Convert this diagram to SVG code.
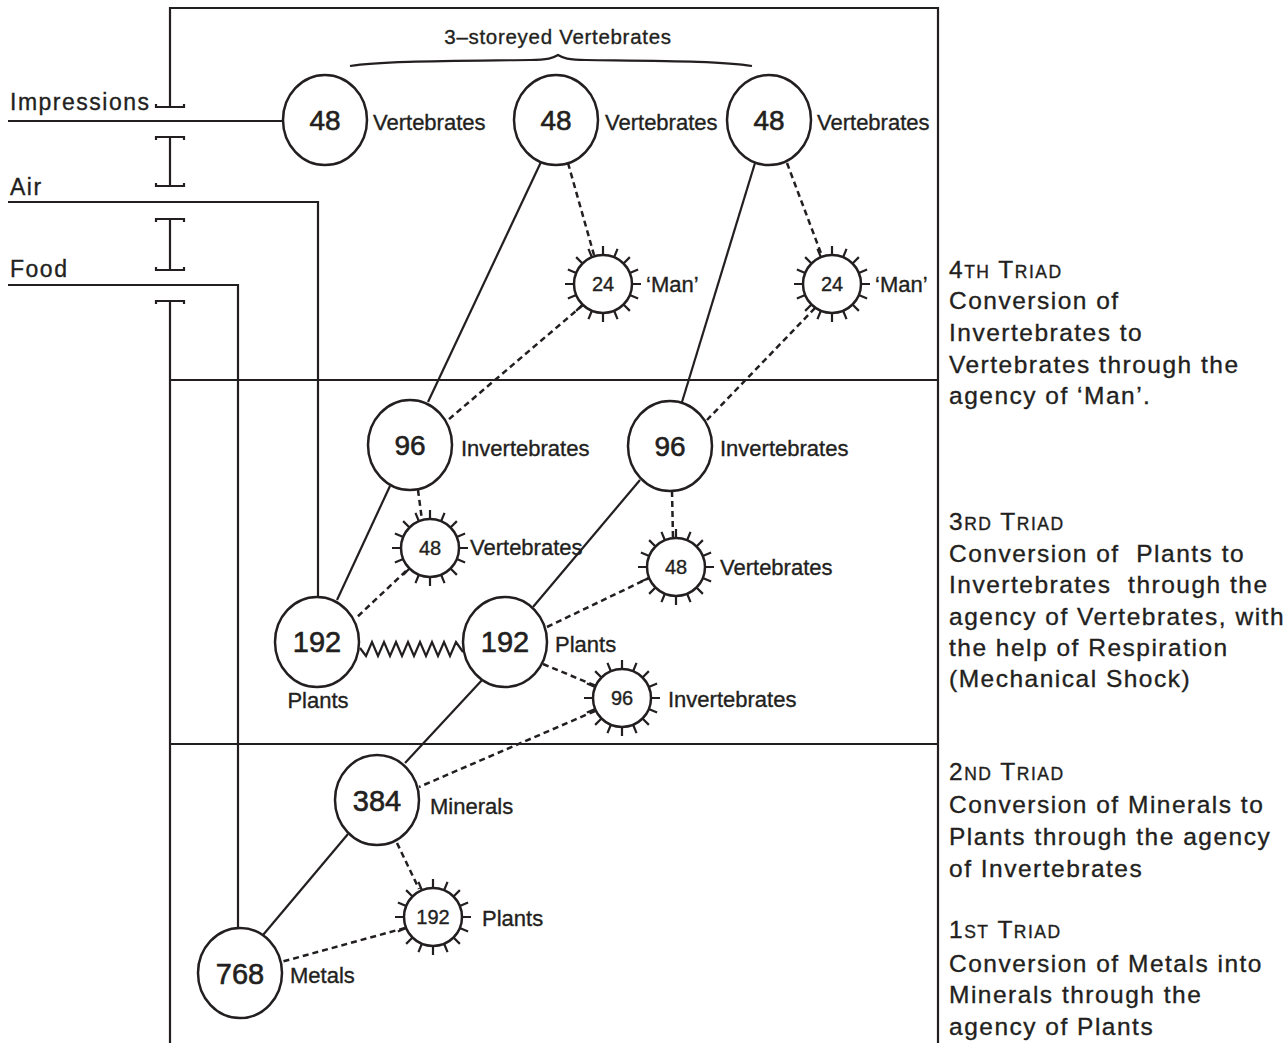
<svg xmlns="http://www.w3.org/2000/svg" xmlns:xlink="http://www.w3.org/1999/xlink" width="1284" height="1043" viewBox="0 0 1284 1043">
<style>
.ln{fill:none;stroke:#231f20;stroke-width:2.2}
.ds{fill:none;stroke:#231f20;stroke-width:2.5;stroke-dasharray:6 4}
.nd{fill:#fff;stroke:#231f20;stroke-width:2.5}
.t{font-family:"Liberation Sans",Arial,sans-serif;fill:#231f20;stroke:#231f20;stroke-width:0.35}
.big{font-size:28px;text-anchor:middle;stroke-width:0.6}
.big3{font-size:29px;text-anchor:middle;stroke-width:0.6}
.sm{font-size:20px;text-anchor:middle}
.lab{font-size:22px}
.side{font-size:23px;letter-spacing:1.5px}
.rt{font-size:24.5px;letter-spacing:1.5px}
.sc{font-size:17.5px}
</style>
<defs>
<g id="sun">
<circle r="29" class="nd"/>
<path class="ln" d="M29 0H38M-29 0H-38M0 29V38M0 -29V-38M26.79 11.1L35.11 14.54M-26.79 11.1L-35.11 14.54M26.79 -11.1L35.11 -14.54M-26.79 -11.1L-35.11 -14.54M20.51 20.51L26.87 26.87M-20.51 20.51L-26.87 26.87M20.51 -20.51L26.87 -26.87M-20.51 -20.51L-26.87 -26.87M11.1 26.79L14.54 35.11M-11.1 26.79L-14.54 35.11M11.1 -26.79L14.54 -35.11M-11.1 -26.79L-14.54 -35.11"/>
</g>
</defs>
<rect width="1284" height="1043" fill="#fff"/>
<g id="frame" class="ln">
<path d="M170 107V8H938V1043"/>
<path d="M156 104V107H184V104"/>
<path d="M156 140V137H184V140M170 137V186M156 183V186H184V183"/>
<path d="M156 222V219H184V222M170 219V270M156 267V270H184V267"/>
<path d="M156 304V301H184V304M170 301V1043"/>
<path d="M170 380H938M170 744H938"/>
<path d="M350 66C380 61 450 61 530 60C548 60 553 58 558 55C563 58 568 60 586 60C666 61 722 61 752 66"/>
</g>
<g id="connectors">
<path class="ln" d="M8 121H283"/>
<path class="ln" d="M8 202H318V598"/>
<path class="ln" d="M8 285H238V928"/>
<path class="ln" d="M541 162L428 402"/>
<path class="ln" d="M755 163L682 402"/>
<path class="ln" d="M390 486L337 600"/>
<path class="ln" d="M640 480L533 607"/>
<path class="ln" d="M483 679L405 763"/>
<path class="ln" d="M348 834L263 935"/>
<polyline class="ln" points="360,648 366,656 372,642 378,656 384,642 390,656 396,642 402,656 408,642 414,656 420,642 426,656 432,642 438,656 444,642 450,656 456,642 463,652"/>
<path class="ds" d="M568 163L594 255"/>
<path class="ds" d="M583 305L448 420"/>
<path class="ds" d="M787 163L822 256"/>
<path class="ds" d="M815 308L707 420"/>
<path class="ds" d="M418 490L422 520"/>
<path class="ds" d="M406 571L355 619"/>
<path class="ds" d="M672 491L673 538"/>
<path class="ds" d="M547 627L649 578"/>
<path class="ds" d="M543 664L596 686"/>
<path class="ds" d="M595 711L419 787"/>
<path class="ds" d="M397 843L419 889"/>
<path class="ds" d="M405 928L281 962"/>
</g>
<g id="inputs" class="t side">
<text x="10" y="110">Impressions</text>
<text x="10" y="195">Air</text>
<text x="10" y="277">Food</text>
</g>
<text id="brace-label" class="t" x="558" y="44" font-size="20.5" text-anchor="middle" letter-spacing="0.7">3–storeyed Vertebrates</text>
<g id="v48a"><ellipse class="nd" cx="325" cy="120" rx="42" ry="45"/><text class="t big" x="325" y="130">48</text><text class="t lab" x="373" y="130">Vertebrates</text></g>
<g id="v48b"><ellipse class="nd" cx="556" cy="120" rx="42" ry="45"/><text class="t big" x="556" y="130">48</text><text class="t lab" x="605" y="130">Vertebrates</text></g>
<g id="v48c"><ellipse class="nd" cx="769" cy="120" rx="42" ry="45"/><text class="t big" x="769" y="130">48</text><text class="t lab" x="817" y="130">Vertebrates</text></g>
<g id="man1"><use xlink:href="#sun" x="603" y="284"/><text class="t sm" x="603" y="291">24</text><text class="t lab" x="646" y="292">‘Man’</text></g>
<g id="man2"><use xlink:href="#sun" x="832" y="284"/><text class="t sm" x="832" y="291">24</text><text class="t lab" x="875" y="292">‘Man’</text></g>
<g id="i96a"><ellipse class="nd" cx="410" cy="445" rx="42" ry="45"/><text class="t big" x="410" y="455">96</text><text class="t lab" x="461" y="456">Invertebrates</text></g>
<g id="i96b"><ellipse class="nd" cx="670" cy="446" rx="42" ry="45"/><text class="t big" x="670" y="456">96</text><text class="t lab" x="720" y="456">Invertebrates</text></g>
<g id="s48a"><use xlink:href="#sun" x="430" y="548"/><text class="t sm" x="430" y="555">48</text><text class="t lab" x="470" y="555">Vertebrates</text></g>
<g id="s48b"><use xlink:href="#sun" x="676" y="567"/><text class="t sm" x="676" y="574">48</text><text class="t lab" x="720" y="575">Vertebrates</text></g>
<g id="p192a"><ellipse class="nd" cx="317" cy="642" rx="42" ry="45"/><text class="t big3" x="317" y="652">192</text><text class="t lab" x="318" y="708" text-anchor="middle">Plants</text></g>
<g id="p192b"><ellipse class="nd" cx="505" cy="642" rx="42" ry="45"/><text class="t big3" x="505" y="652">192</text><text class="t lab" x="555" y="652">Plants</text></g>
<g id="s96"><use xlink:href="#sun" x="622" y="698"/><text class="t sm" x="622" y="705">96</text><text class="t lab" x="668" y="707">Invertebrates</text></g>
<g id="m384"><ellipse class="nd" cx="377" cy="800" rx="42" ry="45"/><text class="t big3" x="377" y="811">384</text><text class="t lab" x="430" y="814">Minerals</text></g>
<g id="s192"><use xlink:href="#sun" x="433" y="917"/><text class="t sm" x="433" y="924">192</text><text class="t lab" x="482" y="926">Plants</text></g>
<g id="m768"><ellipse class="nd" cx="240" cy="973" rx="42" ry="45"/><text class="t big3" x="240" y="984">768</text><text class="t lab" x="290" y="983">Metals</text></g>
<g id="triad4" class="t rt">
<text x="949" y="278">4<tspan class="sc">TH</tspan> T<tspan class="sc">RIAD</tspan></text>
<text x="949" y="309">Conversion of</text>
<text x="949" y="341">Invertebrates to</text>
<text x="949" y="373">Vertebrates through the</text>
<text x="949" y="404">agency of ‘Man’.</text>
</g>
<g id="triad3" class="t rt">
<text x="949" y="530">3<tspan class="sc">RD</tspan> T<tspan class="sc">RIAD</tspan></text>
<text x="949" y="562" xml:space="preserve">Conversion of  Plants to</text>
<text x="949" y="593" xml:space="preserve">Invertebrates  through the</text>
<text x="949" y="625">agency of Vertebrates, with</text>
<text x="949" y="656">the help of Respiration</text>
<text x="949" y="687">(Mechanical Shock)</text>
</g>
<g id="triad2" class="t rt">
<text x="949" y="780">2<tspan class="sc">ND</tspan> T<tspan class="sc">RIAD</tspan></text>
<text x="949" y="813">Conversion of Minerals to</text>
<text x="949" y="845">Plants through the agency</text>
<text x="949" y="877">of Invertebrates</text>
</g>
<g id="triad1" class="t rt">
<text x="949" y="938">1<tspan class="sc">ST</tspan> T<tspan class="sc">RIAD</tspan></text>
<text x="949" y="972">Conversion of Metals into</text>
<text x="949" y="1003">Minerals through the</text>
<text x="949" y="1035">agency of Plants</text>
</g>
</svg>
